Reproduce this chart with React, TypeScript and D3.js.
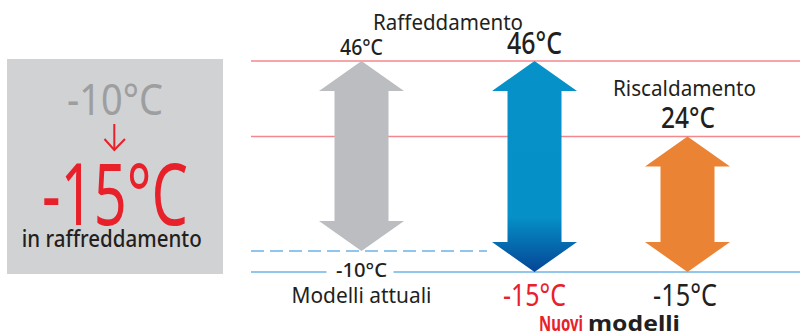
import React from "react";
import * as d3 from "d3";

// ---- data ----
const categories = ["Modelli attuali", "Nuovi raffreddamento", "Nuovi riscaldamento"];
const highs = [46, 46, 24];
const lows = [-10, -15, -15];
const highLabels = ["46°C", "46°C", "24°C"];
const lowLabels = ["-10°C", "-15°C", "-15°C"];
const refTemps = [46, 24]; // red reference lines
const oldMin = -10; // dashed line
const newMin = -15; // solid line
const boxOld = "-10°C";
const boxNew = "-15°C";
const boxCaption = "in raffreddamento";
const titleCool = "Raffeddamento";
const titleHeat = "Riscaldamento";
const captionOld = "Modelli attuali";
const captionNewA = "Nuovi";
const captionNewB = "modelli";

const W = 800;
const H = 333;
const FONT = "'Noto Sans', 'Open Sans', sans-serif";

const y = d3.scaleLinear().domain([-15, -10, 24, 46]).range([272, 251, 136.5, 61]);
const x = d3.scaleOrdinal<string, number>().domain(categories).range([361.5, 534.5, 687.5]);

const SHAFT = 54;
const HEAD_W = 85;
const HEAD_H = 30;

function arrowPath(cx: number, top: number, bottom: number) {
  const p = d3.path();
  const hs = SHAFT / 2;
  const hh = HEAD_W / 2;
  p.moveTo(cx, top);
  p.lineTo(cx + hh, top + HEAD_H);
  p.lineTo(cx + hs, top + HEAD_H);
  p.lineTo(cx + hs, bottom - HEAD_H);
  p.lineTo(cx + hh, bottom - HEAD_H);
  p.lineTo(cx, bottom);
  p.lineTo(cx - hh, bottom - HEAD_H);
  p.lineTo(cx - hs, bottom - HEAD_H);
  p.lineTo(cx - hs, top + HEAD_H);
  p.lineTo(cx - hh, top + HEAD_H);
  p.closePath();
  return p.toString();
}

const fills = ["#bcbdc0", "url(#blueGrad)", "#eb8334"];

type TProps = {
  x: number;
  y: number;
  w: number;
  size: number;
  fill?: string;
  weight?: number | string;
  anchor?: "start" | "middle" | "end";
  children: React.ReactNode;
};
const T = ({ x, y, w, size, fill = "#231f20", weight = 400, anchor = "middle", children }: TProps) => (
  <text
    x={x}
    y={y}
    fontSize={size}
    fontFamily={FONT}
    fontWeight={weight}
    fill={fill}
    textAnchor={anchor}
    textLength={w}
    lengthAdjust="spacingAndGlyphs"
  >
    {children}
  </text>
);

export default function App() {
  const lineX0 = 251;
  const yOld = y(oldMin);
  const yNew = y(newMin);
  const lowLabelX = x(categories[0]);
  return (
    <svg
      width={W}
      height={H}
      viewBox={`0 0 ${W} ${H}`}
      style={{ position: "absolute", left: 0, top: 0, background: "#fff" }}
    >
      <defs>
        <linearGradient id="blueGrad" x1="0" y1={y(46)} x2="0" y2={y(-15)} gradientUnits="userSpaceOnUse">
          <stop offset="0" stopColor="#0692c9" />
          <stop offset="0.74" stopColor="#0590c7" />
          <stop offset="1" stopColor="#054596" />
        </linearGradient>
      </defs>

      {/* left box */}
      <rect x={7} y={59} width={216} height={215} fill="#d1d2d4" />
      <T x={115} y={115} w={96} size={44} fill="#9d9ea0">{boxOld}</T>
      <g stroke="#e8202a" strokeWidth={2} fill="none">
        <line x1={114.3} y1={124} x2={114.3} y2={150} />
        <polyline points="104.5,139 114.3,150 125,139" />
      </g>
      <T x={115} y={225} w={146} size={85} fill="#e8202a">{boxNew}</T>
      <T x={111.7} y={247} w={180} size={23} weight={500}>{boxCaption}</T>

      {/* reference lines */}
      {refTemps.map((t) => (
        <line key={t} x1={lineX0} x2={W} y1={y(t)} y2={y(t)} stroke="#f4878d" strokeWidth={1.5} />
      ))}
      <line x1={lineX0} x2={487} y1={yOld} y2={yOld} stroke="#6cb4e6" strokeWidth={1.5} strokeDasharray="13 6" />
      <line x1={lineX0} x2={lowLabelX - 35} y1={yNew} y2={yNew} stroke="#6cb4e6" strokeWidth={1.5} />
      <line x1={lowLabelX + 32} x2={W} y1={yNew} y2={yNew} stroke="#6cb4e6" strokeWidth={1.5} />

      {/* arrows */}
      {categories.map((c, i) => (
        <path key={c} d={arrowPath(x(c), y(highs[i]), y(lows[i]))} fill={fills[i]} />
      ))}

      {/* titles */}
      <T x={373} y={30} w={150} size={21} anchor="start">{titleCool}</T>
      <T x={613} y={95.7} w={143} size={21} anchor="start">{titleHeat}</T>

      {/* high labels */}
      <T x={x(categories[0])} y={55} w={43} size={21} weight={500}>{highLabels[0]}</T>
      <T x={x(categories[1])} y={53.5} w={55} size={30} weight={500}>{highLabels[1]}</T>
      <T x={x(categories[2]) + 0.5} y={127.7} w={54} size={29} weight={500}>{highLabels[2]}</T>

      {/* low labels */}
      <T x={x(categories[0])} y={277.3} w={51} size={19} weight={500}>{lowLabels[0]}</T>
      <T x={x(categories[0])} y={303.3} w={140} size={21}>{captionOld}</T>
      <T x={x(categories[1])} y={305.7} w={63} size={31} fill="#e8202a">{lowLabels[1]}</T>
      <T x={x(categories[2]) - 2.5} y={305.7} w={64} size={31}>{lowLabels[2]}</T>

      <T x={539} y={330.7} w={44} size={21} weight={700} fill="#e8202a" anchor="start">{captionNewA}</T>
      <T x={588} y={330.7} w={92} size={21} weight={700} anchor="start">{captionNewB}</T>
    </svg>
  );
}
